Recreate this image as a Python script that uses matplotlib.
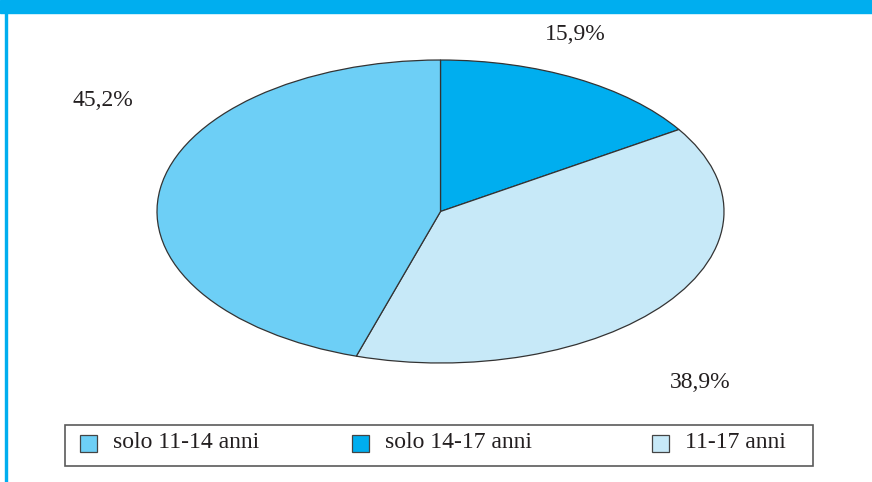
import matplotlib.pyplot as plt
from matplotlib.patches import Rectangle

# share of each age group
labels = ['solo 11-14 anni', 'solo 14-17 anni', '11-17 anni']
values = [45.2, 15.9, 38.9]
colors = ['#6DCFF6', '#00AEEF', '#C7E9F8']
pct_text = ['45,2%', '15,9%', '38,9%']

W, H = 872, 482
fig = plt.figure(figsize=(W / 100, H / 100), dpi=100)
plt.rcParams['font.family'] = ['Liberation Serif', 'DejaVu Serif']
txt_color = '#231F20'

def fx(px):
    return px / W

def fy(py):
    return 1 - py / H

# blue header strip and left rule
fig.patches.append(Rectangle((0, fy(13)), 1, 13 / H, transform=fig.transFigure,
                             color='#00AEEF', zorder=0))
fig.patches.append(Rectangle((fx(4.5), 0), 2.5 / W, fy(13), transform=fig.transFigure,
                             color='#00AEEF', zorder=0))

# pie stretched into an ellipse (auto aspect)
x0, x1, y0, y1 = 157, 724, 60, 363
ax = fig.add_axes([fx(x0), fy(y1), (x1 - x0) / W, (y1 - y0) / H])
# slices go clockwise from the top: 14-17, 11-17, 11-14
order = [1, 2, 0]
wedges, _ = ax.pie([values[i] for i in order], colors=[colors[i] for i in order],
                   startangle=90, counterclock=False,
                   wedgeprops=dict(edgecolor='#333333', linewidth=0.9))
for w in wedges:
    w.set_clip_on(False)
ax.set_aspect('auto')
ax.set_xlim(-1, 1)
ax.set_ylim(-1, 1)
ax.axis('off')

# percentage labels
pos = [(103, 100), (575, 35), (700, 383)]
for (px, py), t in zip(pos, pct_text):
    fig.text(fx(px), fy(py), t, ha='center', va='center', fontsize=17, color=txt_color)

# legend box
fig.patches.append(Rectangle((fx(65), fy(466)), (813 - 65) / W, (466 - 425) / H,
                             transform=fig.transFigure, facecolor='white',
                             edgecolor='#5a5a5a', linewidth=1.2, zorder=1))
mark_x = [80, 352, 652]
for mx, lab, col in zip(mark_x, labels, colors):
    fig.patches.append(Rectangle((fx(mx), fy(452)), 17 / W, 17 / H,
                                 transform=fig.transFigure, facecolor=col,
                                 edgecolor='#444444', linewidth=0.9, zorder=2))
    fig.text(fx(mx + 33), fy(443), lab, ha='left', va='center', fontsize=17,
             color=txt_color)

fig.savefig('out.png', dpi=100)
